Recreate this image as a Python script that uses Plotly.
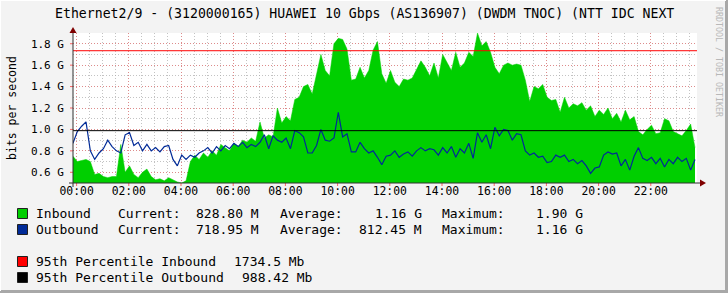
import plotly.graph_objects as go

# ---------------- data ----------------
TITLE = "Ethernet2/9 - (3120000165) HUAWEI 10 Gbps (AS136907) (DWDM TNOC) (NTT IDC NEXT"
Y_AXIS_LABEL = "bits per second"
WATERMARK = "RRDTOOL / TOBI OETIKER"

START_HOUR = -0.14          # first sample (just before midnight)
STEP_HOURS = 1 / 6          # 10-minute samples

inbound_g = [
    0.75, 0.70, 0.71, 0.72, 0.70, 0.58, 0.59, 0.56, 0.55, 0.56,
    0.56, 0.86, 0.60, 0.66, 0.58, 0.55, 0.60, 0.63, 0.56, 0.53,
    0.54, 0.52, 0.55, 0.53, 0.51, 0.50, 0.52, 0.70, 0.76, 0.72,
    0.78, 0.74, 0.80, 0.76, 0.86, 0.83, 0.80, 0.87, 0.84, 0.90,
    0.88, 0.92, 0.89, 1.07, 0.92, 0.95, 0.93, 1.20, 1.06, 1.12,
    1.08, 1.28, 1.30, 1.40, 1.42, 1.33, 1.52, 1.70, 1.55, 1.50,
    1.80, 1.85, 1.84, 1.75, 1.46, 1.47, 1.58, 1.48, 1.55, 1.74,
    1.82, 1.52, 1.43, 1.55, 1.44, 1.40, 1.47, 1.46, 1.48, 1.56,
    1.64, 1.58, 1.50, 1.62, 1.48, 1.70, 1.62, 1.55, 1.72, 1.58,
    1.62, 1.72, 1.68, 1.90, 1.78, 1.82, 1.72, 1.58, 1.52, 1.60,
    1.62, 1.60, 1.61, 1.60, 1.46, 1.26, 1.40, 1.38, 1.42, 1.30,
    1.27, 1.28, 1.16, 1.30, 1.20, 1.24, 1.22, 1.25, 1.18, 1.22,
    1.12, 1.18, 1.14, 1.20, 1.10, 1.15, 1.07, 1.18, 1.09, 1.12,
    0.98, 0.95, 1.00, 1.04, 0.96, 0.97, 1.10, 1.08, 0.98, 0.96,
    0.94, 0.99, 1.05, 0.83,
]

outbound_g = [
    0.87, 0.98, 1.03, 1.07, 0.80, 0.72, 0.78, 0.82, 0.90, 0.84,
    0.80, 0.78, 0.95, 0.97, 0.85, 0.88, 0.80, 0.86, 0.80, 0.83,
    0.79, 0.84, 0.85, 0.72, 0.66, 0.76, 0.72, 0.76, 0.74, 0.78,
    0.80, 0.83, 0.78, 0.84, 0.80, 0.85, 0.82, 0.87, 0.84, 0.88,
    0.83, 0.86, 0.84, 0.88, 0.95, 0.82, 0.94, 0.90, 0.88, 0.92,
    0.82, 0.99, 0.97, 0.93, 0.78, 0.78, 0.85, 1.00, 0.90, 0.89,
    0.92, 1.16, 0.93, 0.96, 0.79, 0.79, 0.88, 0.82, 0.78, 0.80,
    0.74, 0.67, 0.75, 0.76, 0.80, 0.74, 0.77, 0.79, 0.75, 0.80,
    0.83, 0.80, 0.82, 0.81, 0.76, 0.83, 0.78, 0.84, 0.74, 0.82,
    0.78, 0.87, 0.73, 0.97, 0.88, 0.95, 0.82, 1.02, 0.94, 1.00,
    0.99, 0.90, 0.96, 0.95, 0.80, 0.76, 0.78, 0.74, 0.75, 0.69,
    0.70, 0.76, 0.74, 0.76, 0.70, 0.72, 0.68, 0.71, 0.66, 0.59,
    0.64, 0.65, 0.76, 0.79, 0.77, 0.78, 0.66, 0.72, 0.62, 0.75,
    0.83, 0.73, 0.71, 0.74, 0.68, 0.73, 0.65, 0.72, 0.68, 0.74,
    0.70, 0.73, 0.62, 0.72,
]

p95_inbound_g = 1.7345
p95_outbound_g = 0.98842

x_tick_hours = [0, 2, 4, 6, 8, 10, 12, 14, 16, 18, 20, 22]
x_tick_labels = ["00:00", "02:00", "04:00", "06:00", "08:00", "10:00",
                 "12:00", "14:00", "16:00", "18:00", "20:00", "22:00"]
y_tick_values = [0.6, 0.8, 1.0, 1.2, 1.4, 1.6, 1.8]
y_tick_labels = ["0.6 G", "0.8 G", "1.0 G", "1.2 G", "1.4 G", "1.6 G", "1.8 G"]

legend_names = ["Inbound", "Outbound"]
legend_current = ["828.80 M", "718.95 M"]
legend_average = ["1.16 G", "812.45 M"]
legend_maximum = ["1.90 G", "1.16 G"]
percentile_names = ["95th Percentile Inbound", "95th Percentile Outbound"]
percentile_values = ["1734.5 Mb", "988.42 Mb"]

# ---------------- styles / geometry ----------------
GREEN = "#00CF00"
BLUE = "#002A97"
RED = "#FF0000"
BLACK = "#000000"
MONO = "DejaVu Sans Mono"

W_PX, H_PX = 728, 293
L, R, T, B = 73, 31, 33, 110
PW, PH = W_PX - L - R, H_PX - T - B
ZERO_PX, HOUR_PX = 76.6, 26.1
x_range = [(L - ZERO_PX) / HOUR_PX, (L + PW - ZERO_PX) / HOUR_PX]


def px(x):
    return (x - L) / PW


def py(y):
    return (H_PX - B - y) / PH


hours = [START_HOUR + i * STEP_HOURS for i in range(len(inbound_g))]

fig = go.Figure()
fig.add_trace(go.Scatter(x=hours, y=inbound_g, mode="lines", fill="tozeroy",
                         fillcolor=GREEN, line=dict(color=GREEN, width=0.5),
                         hoverinfo="skip", showlegend=False))
fig.add_trace(go.Scatter(x=hours, y=outbound_g, mode="lines",
                         line=dict(color=BLUE, width=1.2),
                         hoverinfo="skip", showlegend=False))
fig.add_trace(go.Scatter(x=x_range, y=[p95_inbound_g, p95_inbound_g], mode="lines",
                         line=dict(color=RED, width=1), hoverinfo="skip", showlegend=False))
fig.add_trace(go.Scatter(x=x_range, y=[p95_outbound_g, p95_outbound_g], mode="lines",
                         line=dict(color=BLACK, width=1), hoverinfo="skip", showlegend=False))

MAJ_GRID = "rgba(230,120,120,0.75)"
MIN_GRID = "rgba(170,170,170,0.7)"

fig.update_xaxes(range=x_range, tickvals=x_tick_hours, ticktext=x_tick_labels,
                 showgrid=True, gridcolor=MAJ_GRID, griddash="1px,2px", gridwidth=1,
                 minor=dict(dtick=0.5, tick0=0, showgrid=True, gridcolor=MIN_GRID,
                            griddash="1px,2px", gridwidth=1),
                 ticks="",
                 tickfont=dict(family=MONO, size=11.4, color="#000"),
                 ticklabelstandoff=0,
                 showline=False, zeroline=False, fixedrange=True)
fig.update_yaxes(range=[0.5, 1.9], tickvals=y_tick_values, ticktext=y_tick_labels,
                 showgrid=True, gridcolor=MAJ_GRID, griddash="1px,2px", gridwidth=1,
                 minor=dict(dtick=0.1, tick0=0.5, showgrid=True, gridcolor=MIN_GRID,
                            griddash="1px,2px", gridwidth=1),
                 ticks="",
                 tickfont=dict(family=MONO, size=11, color="#000"),
                 ticklabelstandoff=8,
                 showline=False, zeroline=False, fixedrange=True)

shapes = []
AXIS_C = "#303030"
ARROW_C = "#7F0000"
TICK_C = "rgba(255,0,0,0.6)"
# small red tick marks outside the axes at labelled positions
for h in x_tick_hours:
    xp = ZERO_PX + h * HOUR_PX
    shapes.append(dict(type="line", xref="paper", yref="paper", x0=px(xp), x1=px(xp),
                       y0=py(183), y1=py(186), line=dict(color=TICK_C, width=1)))
for v in y_tick_values:
    yp = 183 - (v - 0.5) * PH / 1.4
    shapes.append(dict(type="line", xref="paper", yref="paper", x0=px(70), x1=px(73),
                       y0=py(yp), y1=py(yp), line=dict(color=TICK_C, width=1)))
# axes lines
shapes.append(dict(type="line", xref="paper", yref="paper", x0=px(69), x1=px(701),
                   y0=py(183), y1=py(183), line=dict(color=AXIS_C, width=1)))
shapes.append(dict(type="line", xref="paper", yref="paper", x0=px(73), x1=px(73),
                   y0=py(187), y1=py(31), line=dict(color=AXIS_C, width=1)))
# arrows
shapes.append(dict(type="path", xref="paper", yref="paper",
                   path=f"M {px(700)} {py(179.5)} L {px(706)} {py(183)} L {px(700)} {py(186.5)} Z",
                   fillcolor=ARROW_C, line=dict(color=ARROW_C, width=0)))
shapes.append(dict(type="path", xref="paper", yref="paper",
                   path=f"M {px(69.5)} {py(33)} L {px(73)} {py(27)} L {px(76.5)} {py(33)} Z",
                   fillcolor=ARROW_C, line=dict(color=ARROW_C, width=0)))
# frame
shapes.append(dict(type="line", xref="paper", yref="paper", x0=px(0), x1=px(728),
                   y0=py(291.5), y1=py(291.5), line=dict(color="#A8A8A8", width=3)))
shapes.append(dict(type="line", xref="paper", yref="paper", x0=px(726.5), x1=px(726.5),
                   y0=py(0), y1=py(293), line=dict(color="#A8A8A8", width=3)))
shapes.append(dict(type="line", xref="paper", yref="paper", x0=px(0), x1=px(726),
                   y0=py(0.5), y1=py(0.5), line=dict(color="#FFFFFF", width=1)))
shapes.append(dict(type="line", xref="paper", yref="paper", x0=px(0.5), x1=px(0.5),
                   y0=py(0), y1=py(291), line=dict(color="#FFFFFF", width=1)))

annotations = []


def text(x, y, s, size=13, xanchor="left", color="#000", angle=0):
    annotations.append(dict(xref="paper", yref="paper", x=px(x), y=py(y), text=s,
                            showarrow=False, xanchor=xanchor, yanchor="middle",
                            textangle=angle, borderpad=0,
                            font=dict(family=MONO, size=size, color=color)))


text(364, 13.5, TITLE, size=13.2, xanchor="center")
text(12, 108, Y_AXIS_LABEL, size=11.5, xanchor="center", angle=-90)
text(719, 62, WATERMARK, size=8.3, xanchor="center", color="#B8B8B8", angle=90)

row_y = [213.5, 229.5]
for i, name in enumerate(legend_names):
    y = row_y[i]
    shapes.append(dict(type="rect", xref="paper", yref="paper", x0=px(17.5), x1=px(27.5),
                       y0=py(y + 5), y1=py(y - 5), fillcolor=[GREEN, BLUE][i],
                       line=dict(color="#202020", width=1)))
    text(35, y, name)
    text(116.7, y, "Current:")
    text(260, y, legend_current[i], xanchor="right")
    text(279.3, y, "Average:")
    text(422.7, y, legend_average[i], xanchor="right")
    text(440.7, y, "Maximum:")
    text(584, y, legend_maximum[i], xanchor="right")

prow_y = [261.5, 277.5]
for i, name in enumerate(percentile_names):
    y = prow_y[i]
    shapes.append(dict(type="rect", xref="paper", yref="paper", x0=px(17.5), x1=px(27.5),
                       y0=py(y + 5), y1=py(y - 5), fillcolor=[RED, BLACK][i],
                       line=dict(color="#202020", width=1)))
    text(35, y, name)
    text([305.5, 314][i], y, percentile_values[i], xanchor="right")

fig.update_layout(width=W_PX, height=H_PX, autosize=False,
                  margin=dict(l=L, r=R, t=T, b=B, pad=0),
                  paper_bgcolor="#F3F3F3", plot_bgcolor="#FFFFFF",
                  shapes=shapes, annotations=annotations, showlegend=False,
                  hovermode=False)

fig.write_html("out.html", config={"displayModeBar": False, "staticPlot": True})
